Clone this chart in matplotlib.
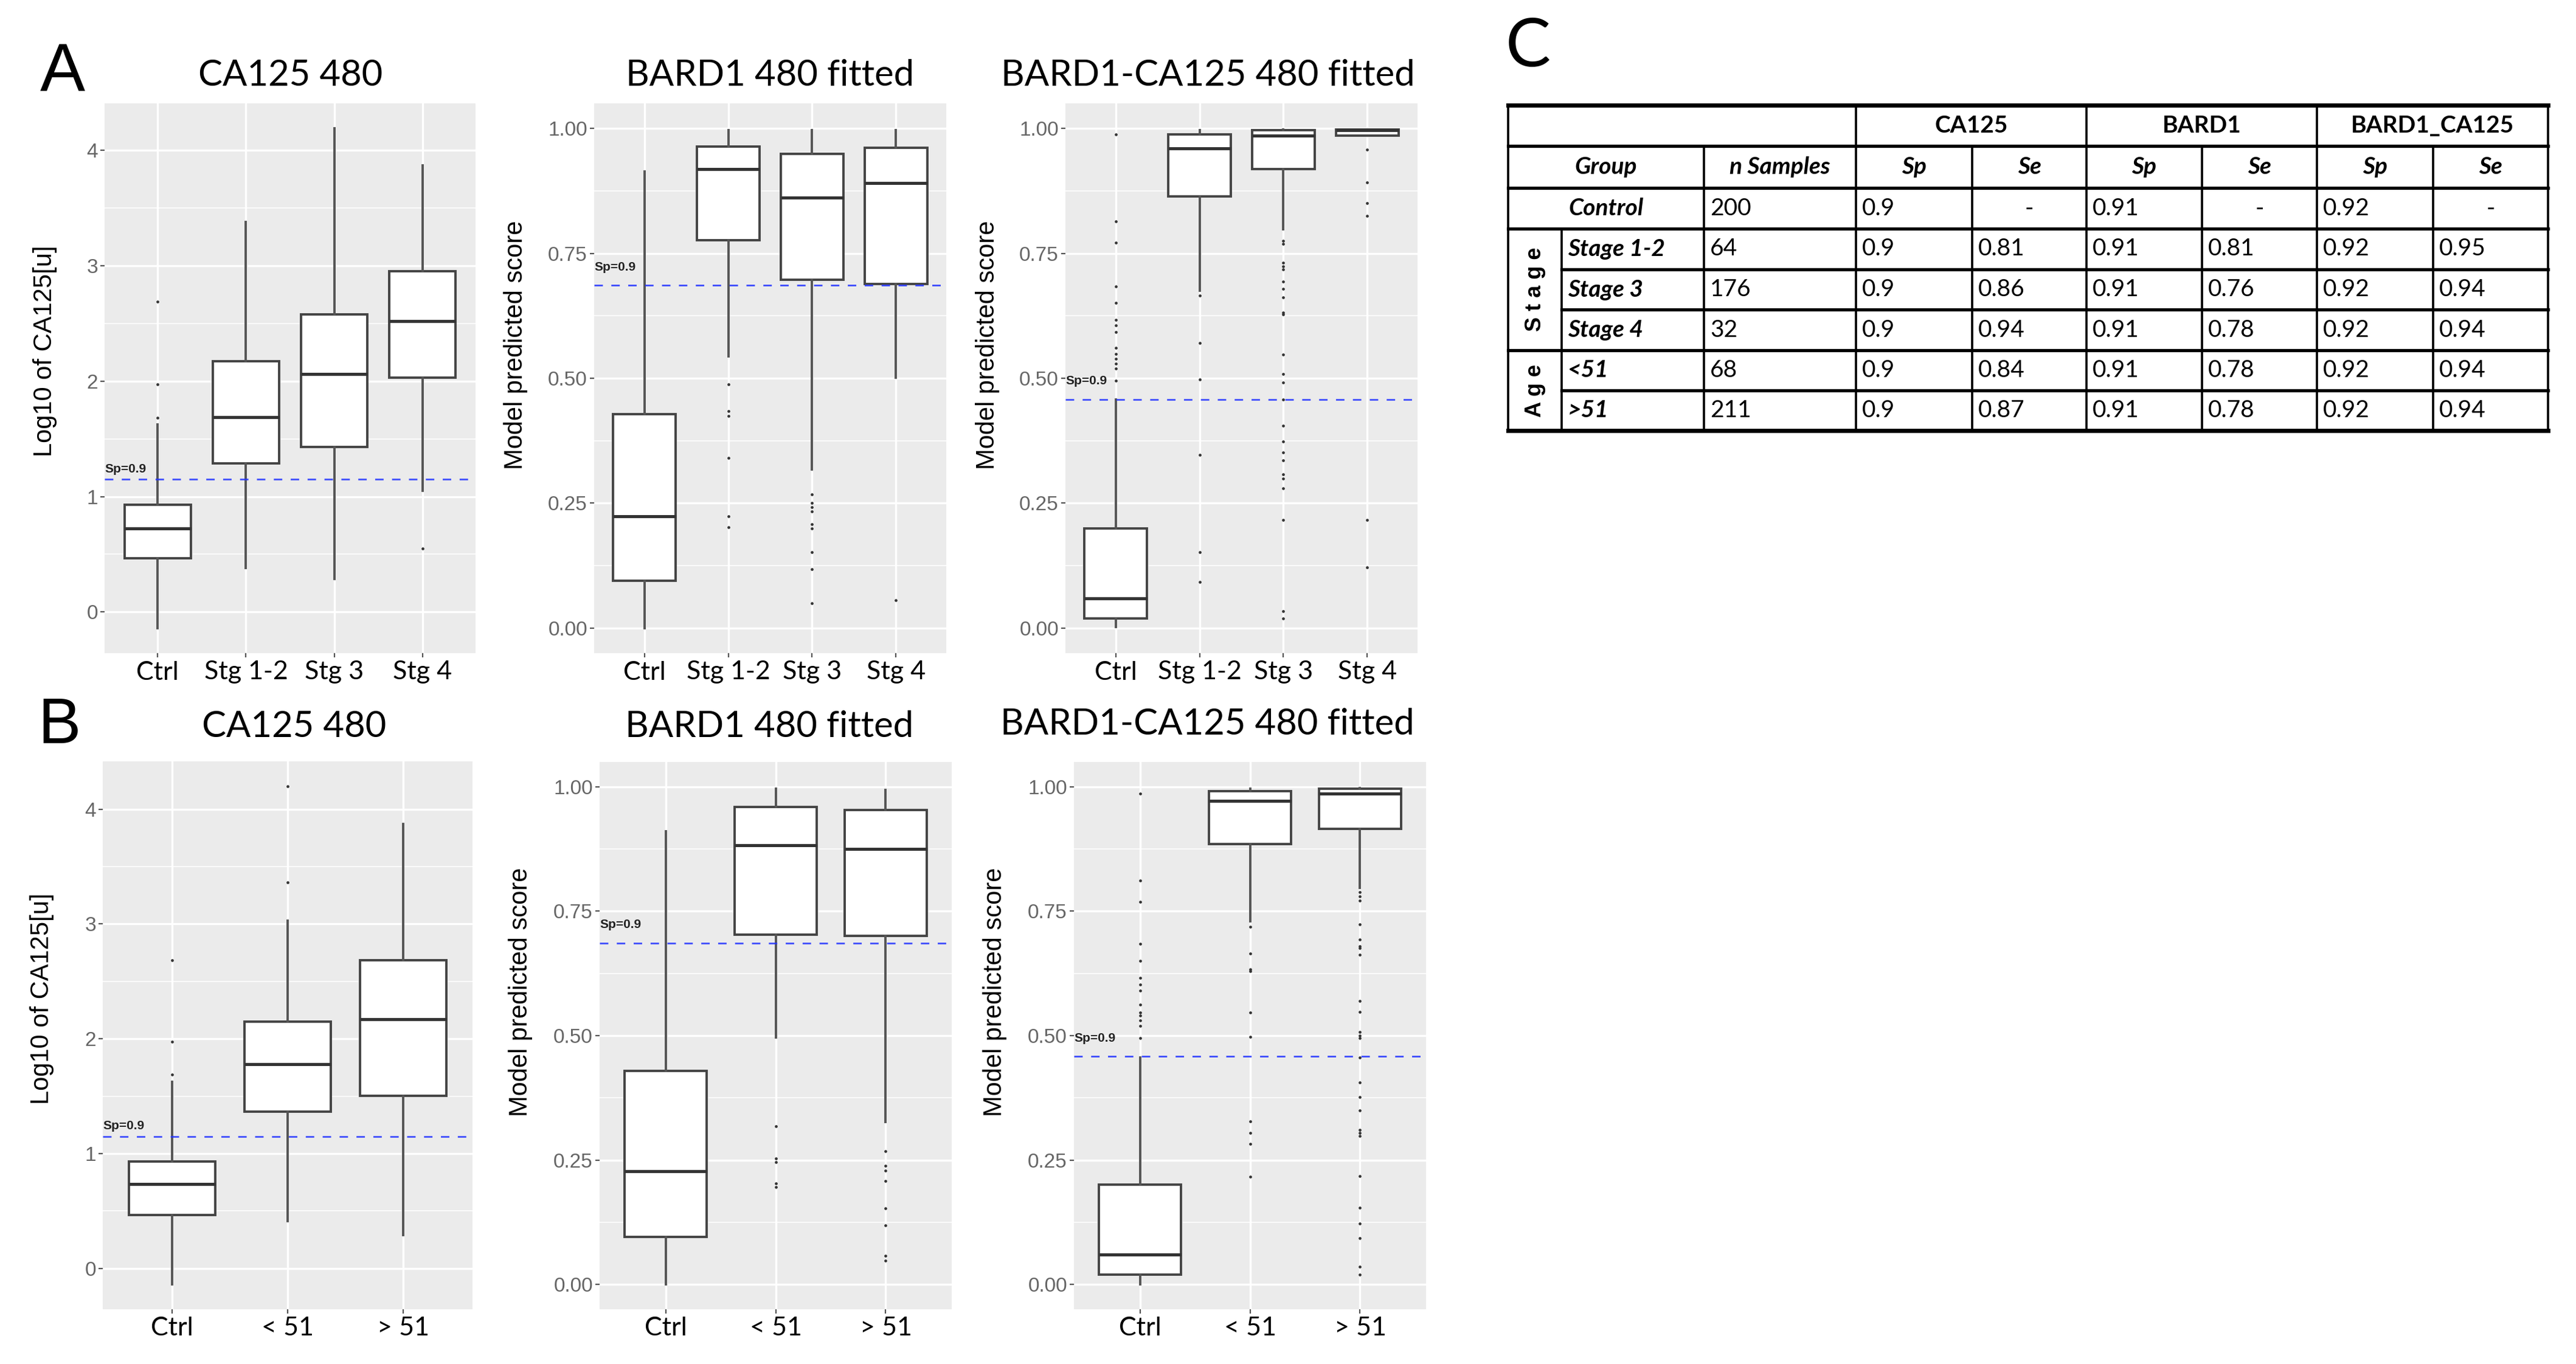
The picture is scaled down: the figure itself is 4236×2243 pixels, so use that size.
import matplotlib
matplotlib.use("Agg")
import matplotlib.pyplot as plt

W, H = 4236, 2243
DPI = 100

# ---------------- data ----------------
stage_labels = ["Ctrl", "Stg 1-2", "Stg 3", "Stg 4"]
age_labels = ["Ctrl", "< 51", "> 51"]

# boxes as (lower whisker, Q1, median, Q3, upper whisker)
ca125_stage_box = [
    (-0.14, 0.465, 0.726, 0.93, 1.626),
    (0.383, 1.29, 1.69, 2.17, 3.38),
    (0.287, 1.43, 2.06, 2.58, 4.19),
    (1.05, 2.03, 2.52, 2.95, 3.87),
]
ca125_stage_out = [[1.68, 1.97, 2.69], [], [], [0.55]]

bard1_stage_box = [
    (0.0, 0.095, 0.224, 0.428, 0.914),
    (0.544, 0.776, 0.919, 0.963, 0.997),
    (0.318, 0.697, 0.861, 0.949, 0.996),
    (0.501, 0.688, 0.890, 0.961, 0.996),
]
bard1_stage_out = [
    [],
    [0.488, 0.434, 0.424, 0.341, 0.224, 0.202],
    [0.268, 0.251, 0.242, 0.234, 0.208, 0.199, 0.152, 0.118, 0.05],
    [0.056],
]

combo_stage_box = [
    (0.002, 0.019, 0.06, 0.199, 0.458),
    (0.675, 0.864, 0.960, 0.988, 0.997),
    (0.798, 0.918, 0.986, 0.997, 0.998),
    (0.985, 0.985, 0.997, 0.998, 0.998),
]
combo_stage_out = [
    [0.988, 0.814, 0.771, 0.684, 0.651, 0.617, 0.606, 0.593, 0.561, 0.549,
     0.539, 0.529, 0.519, 0.495],
    [0.665, 0.570, 0.497, 0.347, 0.152, 0.092],
    [0.775, 0.769, 0.731, 0.724, 0.718, 0.694, 0.679, 0.662, 0.632, 0.628,
     0.548, 0.508, 0.491, 0.458, 0.405, 0.373, 0.351, 0.336, 0.308, 0.299,
     0.280, 0.216, 0.034, 0.019],
    [0.957, 0.892, 0.851, 0.825, 0.216, 0.122],
]

ca125_age_box = [
    (-0.14, 0.462, 0.732, 0.931, 1.623),
    (0.413, 1.363, 1.777, 2.148, 3.031),
    (0.289, 1.502, 2.171, 2.685, 3.869),
]
ca125_age_out = [[1.686, 1.972, 2.685], [3.36, 4.20], []]

bard1_age_box = [
    (0.0, 0.096, 0.227, 0.429, 0.911),
    (0.496, 0.703, 0.882, 0.959, 0.996),
    (0.326, 0.700, 0.875, 0.954, 0.994),
]
bard1_age_out = [
    [],
    [0.318, 0.253, 0.246, 0.203, 0.196],
    [0.268, 0.239, 0.229, 0.208, 0.153, 0.119, 0.057, 0.048],
]

combo_age_box = [
    (0.0, 0.02, 0.06, 0.201, 0.456),
    (0.730, 0.885, 0.972, 0.991, 0.996),
    (0.797, 0.916, 0.987, 0.996, 0.997),
]
combo_age_out = [
    [0.987, 0.812, 0.769, 0.685, 0.650, 0.616, 0.603, 0.590, 0.562, 0.547,
     0.540, 0.530, 0.519, 0.495],
    [0.719, 0.665, 0.633, 0.629, 0.547, 0.497, 0.328, 0.305, 0.282, 0.217],
    [0.788, 0.780, 0.771, 0.724, 0.693, 0.680, 0.676, 0.663, 0.570, 0.548,
     0.507, 0.500, 0.495, 0.456, 0.406, 0.377, 0.350, 0.311, 0.305, 0.298,
     0.218, 0.154, 0.122, 0.093, 0.035, 0.020],
]

# Sp = 0.9 cut-offs
ca125_cut = 1.15
bard1_cut = 0.686
combo_cut = 0.458

log_ticks = [0, 1, 2, 3, 4]
log_minor = [0.5, 1.5, 2.5, 3.5]
score_ticks = [0.0, 0.25, 0.50, 0.75, 1.00]
score_minor = [0.125, 0.375, 0.625, 0.875]

# table C
table_groups = ["Control", "Stage 1-2", "Stage 3", "Stage 4", "<51", ">51"]
table_n = [200, 64, 176, 32, 68, 211]
ca125_sp = [0.9, 0.9, 0.9, 0.9, 0.9, 0.9]
ca125_se = ["-", 0.81, 0.86, 0.94, 0.84, 0.87]
bard1_sp = [0.91, 0.91, 0.91, 0.91, 0.91, 0.91]
bard1_se = ["-", 0.81, 0.76, 0.78, 0.78, 0.78]
combo_sp = [0.92, 0.92, 0.92, 0.92, 0.92, 0.92]
combo_se = ["-", 0.95, 0.94, 0.94, 0.94, 0.94]

# ---------------- figure ----------------
fig = plt.figure(figsize=(W / DPI, H / DPI), dpi=DPI)
fig.patch.set_facecolor("white")

BOX_COL = "#444444"
GRID_BG = "#EBEBEB"


def draw_panel(rect, boxes, outliers, labels, cut, score, ylab, ylab_pos, sp_off):
    left, right, top, bottom = rect
    ax = fig.add_axes([left / W, 1 - bottom / H, (right - left) / W, (bottom - top) / H])
    ax.set_facecolor(GRID_BG)
    for s in ax.spines.values():
        s.set_visible(False)

    stats = []
    for b, out, lab in zip(boxes, outliers, labels):
        stats.append({"whislo": b[0], "q1": b[1], "med": b[2], "q3": b[3],
                      "whishi": b[4], "fliers": out, "label": lab})
    n = len(stats)
    pos = list(range(1, n + 1))
    ax.bxp(stats, positions=pos, widths=0.75, patch_artist=True, showcaps=False,
           boxprops=dict(facecolor="white", edgecolor=BOX_COL, linewidth=2.8),
           whiskerprops=dict(color="#555555", linewidth=2.8),
           medianprops=dict(color="#333333", linewidth=3.6),
           flierprops=dict(marker="o", markersize=3.4, markerfacecolor="#333333",
                           markeredgecolor="none"))

    lo = min(min(b[0] for b in boxes), min([v for o in outliers for v in o] or [99]))
    hi = max(max(b[4] for b in boxes), max([v for o in outliers for v in o] or [-99]))
    if score:
        lo, hi = min(lo, 0.0), max(hi, 1.0)
    pad = 0.05 * (hi - lo)
    ax.set_ylim(lo - pad, hi + pad)
    ax.set_xlim(0.4, n + 0.6)

    if score:
        ax.set_yticks(score_ticks)
        ax.set_yticklabels(["%.2f" % t for t in score_ticks])
        ax.set_yticks(score_minor, minor=True)
    else:
        ax.set_yticks(log_ticks)
        ax.set_yticklabels([str(t) for t in log_ticks])
        ax.set_yticks(log_minor, minor=True)
    ax.set_xticks(pos)
    ax.set_xticklabels(labels, fontfamily="Lato", fontsize=31, color="black")

    ax.set_axisbelow(True)
    ax.grid(True, which="major", color="white", linewidth=2.4)
    ax.grid(True, which="minor", axis="y", color="white", linewidth=1.1)
    ax.tick_params(axis="both", which="major", length=5, width=1.6, color="#555555")
    ax.tick_params(axis="y", which="major", labelsize=24, labelcolor="#666666", pad=3)
    ax.tick_params(axis="x", which="major", pad=4)
    ax.tick_params(axis="y", which="minor", length=0)
    for t in ax.get_yticklabels():
        t.set_fontfamily("Liberation Sans")

    ax.axhline(cut, color="#2233ff", alpha=0.85, linewidth=2.0, dashes=(5, 5), zorder=4)
    ax.annotate("Sp=0.9", xy=(0.4, cut), xytext=(0, sp_off * 72 / DPI),
                textcoords="offset points", ha="left", va="center",
                fontsize=15, fontweight="bold", fontfamily="Liberation Sans",
                color="#222222", zorder=5)

    ax.set_ylabel(ylab, fontsize=30, fontfamily="Liberation Sans", color="black")
    ax.yaxis.set_label_coords(ylab_pos[0], ylab_pos[1])
    return ax


draw_panel((172, 782, 170, 1074), ca125_stage_box, ca125_stage_out, stage_labels,
           ca125_cut, False, "Log10 of CA125[u]", (-0.128, 0.55), 17)
draw_panel((977, 1556, 170, 1074), bard1_stage_box, bard1_stage_out, stage_labels,
           bard1_cut, True, "Model predicted score", (-0.188, 0.56), 30)
draw_panel((1752, 2331, 170, 1074), combo_stage_box, combo_stage_out, stage_labels,
           combo_cut, True, "Model predicted score", (-0.187, 0.56), 30)
draw_panel((169, 777, 1252, 2153), ca125_age_box, ca125_age_out, age_labels,
           ca125_cut, False, "Log10 of CA125[u]", (-0.132, 0.567), 17)
draw_panel((986, 1565, 1253, 2153), bard1_age_box, bard1_age_out, age_labels,
           bard1_cut, True, "Model predicted score", (-0.19, 0.58), 30)
draw_panel((1766, 2345, 1253, 2153), combo_age_box, combo_age_out, age_labels,
           combo_cut, True, "Model predicted score", (-0.19, 0.58), 30)

# overlay in pixel coordinates for titles, letters and the table
ov = fig.add_axes([0, 0, 1, 1])
ov.set_xlim(0, W)
ov.set_ylim(H, 0)
ov.axis("off")
ov.patch.set_alpha(0)

titles = [("CA125 480", 478, 124), ("BARD1 480 fitted", 1266, 124),
          ("BARD1-CA125 480 fitted", 1986, 124), ("CA125 480", 484, 1195),
          ("BARD1 480 fitted", 1265, 1195), ("BARD1-CA125 480 fitted", 1985, 1191)]
for txt, x, y in titles:
    ov.text(x, y, txt, ha="center", va="center", fontsize=43, fontfamily="Lato")

ov.text(103, 120, "A", ha="center", va="center", fontsize=80, fontfamily="Liberation Sans")
ov.text(98, 1195, "B", ha="center", va="center", fontsize=76, fontfamily="Liberation Sans")
ov.text(2513, 78, "C", ha="center", va="center", fontsize=80, fontfamily="Lato")

# ---- table ----
cx = [2480, 2568, 2802, 3052, 3243, 3431, 3621, 3810, 4001, 4190]
ry = [173, 240, 309, 376, 443, 509, 576, 642, 708]
VLW = 2.6
HLW = 3.8

# horizontal rules
for i, y in enumerate(ry):
    x_start = cx[1] if i in (4, 5, 7) else cx[0]
    lw = 5.0 if i in (0, len(ry) - 1) else HLW
    ov.plot([x_start, cx[-1]], [y, y], color="black", linewidth=lw, solid_capstyle="projecting")

# vertical rules
for j, x in enumerate(cx):
    if j in (0, 3, 5, 7, 9):
        y_start = ry[0]
    elif j == 1:
        y_start = ry[3]
    else:
        y_start = ry[1]
    ov.plot([x, x], [y_start, ry[-1]], color="black", linewidth=VLW)


def rc(i):
    return (ry[i] + ry[i + 1]) / 2


TFS = 28
for name, a, b in [("CA125", 3, 5), ("BARD1", 5, 7), ("BARD1_CA125", 7, 9)]:
    ov.text((cx[a] + cx[b]) / 2, rc(0), name, ha="center", va="center",
            fontsize=TFS, fontweight="bold", fontfamily="Lato")

ov.text((cx[0] + cx[2]) / 2, rc(1), "Group", ha="center", va="center", fontsize=TFS,
        fontweight="bold", fontstyle="italic", fontfamily="Lato")
ov.text((cx[2] + cx[3]) / 2, rc(1), "n Samples", ha="center", va="center", fontsize=TFS,
        fontweight="bold", fontstyle="italic", fontfamily="Lato")
for j in range(3, 9):
    ov.text((cx[j] + cx[j + 1]) / 2, rc(1), "Sp" if j % 2 == 1 else "Se", ha="center",
            va="center", fontsize=TFS, fontweight="bold", fontstyle="italic", fontfamily="Lato")

value_cols = [table_n, ca125_sp, ca125_se, bard1_sp, bard1_se, combo_sp, combo_se]
for k, grp in enumerate(table_groups):
    row = k + 2
    if k == 0:
        ov.text((cx[0] + cx[2]) / 2, rc(row), grp, ha="center", va="center", fontsize=TFS,
                fontweight="bold", fontstyle="italic", fontfamily="Lato")
    else:
        ov.text(cx[1] + 10, rc(row), grp, ha="left", va="center", fontsize=TFS,
                fontweight="bold", fontstyle="italic", fontfamily="Lato")
    for c, col in enumerate(value_cols):
        v = col[k]
        if v == "-":
            ov.text((cx[c + 2] + cx[c + 3]) / 2, rc(row), "-", ha="center", va="center",
                    fontsize=TFS, fontfamily="Lato")
        else:
            ov.text(cx[c + 2] + 10, rc(row), str(v), ha="left", va="center",
                    fontsize=TFS, fontfamily="Lato")

ov.text((cx[0] + cx[1]) / 2, (ry[3] + ry[6]) / 2, "S t a g e", rotation=90, ha="center",
        va="center", fontsize=26, fontweight="bold", fontfamily="Liberation Sans")
ov.text((cx[0] + cx[1]) / 2, (ry[6] + ry[8]) / 2, "A g e", rotation=90, ha="center",
        va="center", fontsize=26, fontweight="bold", fontfamily="Liberation Sans")

fig.savefig("out.png", dpi=DPI)
